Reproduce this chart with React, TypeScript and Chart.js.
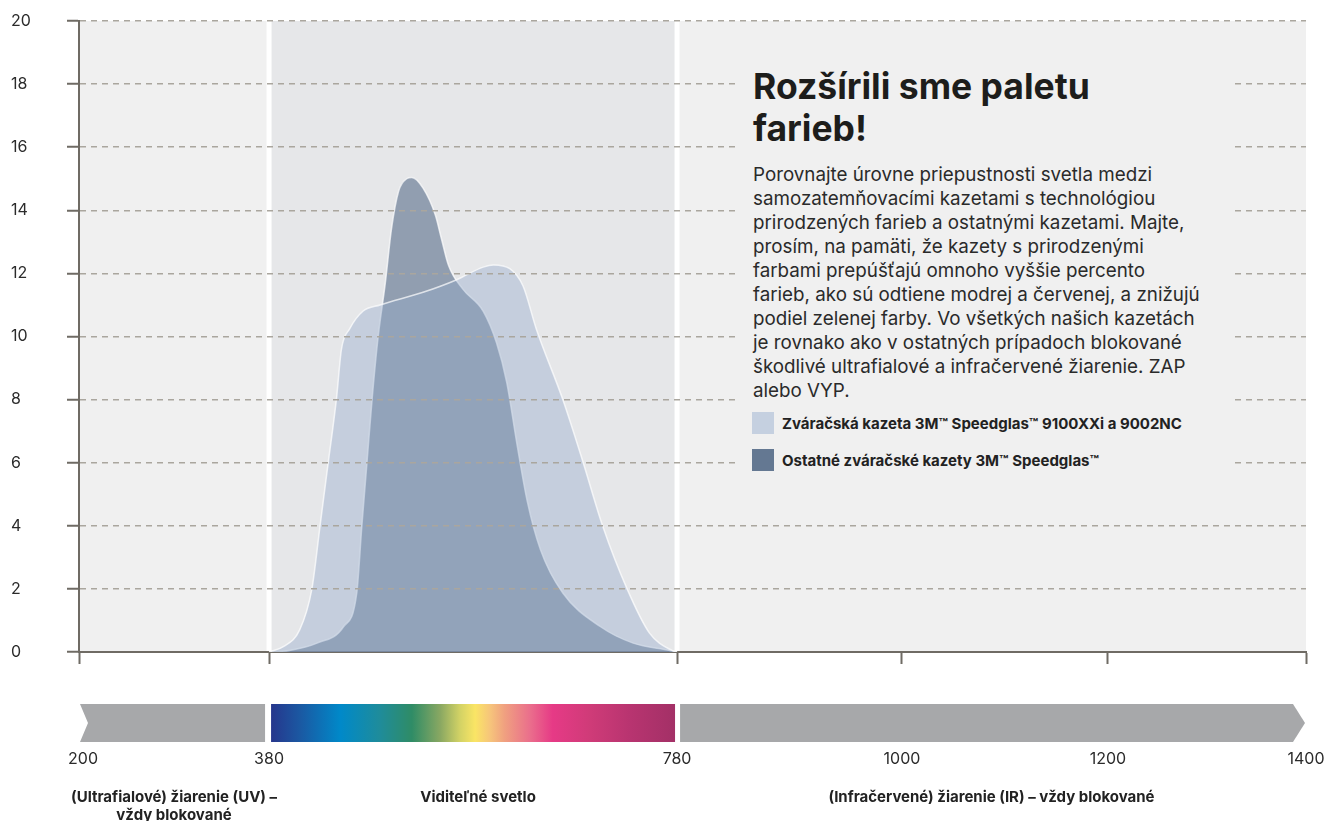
import React, { useEffect, useRef } from 'react';
import { Chart, registerables, LinearScale } from 'chart.js';

// ---- data ----
const tickWavelengths = [200, 380, 780, 1000, 1200, 1400];
const tickFractions = [0, 0.1549, 0.4874, 0.6707, 0.8386, 1];
const yTickStep = 2;
const yMax = 20;

const lightWavelengths = [380, 394, 410, 422, 430, 438, 446, 451, 459, 472, 489, 531, 564, 590, 600, 616, 629, 642, 668, 688, 707, 731, 753, 775, 780];
const lightValues = [0, 0.17, 0.7, 2.0, 4.0, 6.0, 8.0, 9.6, 10.24, 10.8, 11.0, 11.4, 11.8, 12.2, 12.27, 12.15, 11.6, 10.24, 8.0, 6.0, 4.0, 2.0, 0.6, 0.05, 0];

const darkWavelengths = [380, 400, 427, 453, 466, 471, 476, 481, 487, 494, 500, 507, 515, 520, 531, 543, 549, 556, 570, 590, 603, 613, 623, 633, 646, 668, 705, 737, 773, 780];
const darkValues = [0, 0.05, 0.28, 0.8, 1.87, 4.0, 6.0, 8.0, 10.0, 11.7, 13.4, 14.6, 15.0, 15.04, 14.7, 13.85, 13.1, 12.25, 11.5, 10.8, 9.8, 8.55, 6.6, 4.8, 3.25, 1.87, 0.8, 0.28, 0.05, 0];

const seriesLabels = [
  'Zváračská kazeta 3M™ Speedglas™ 9100XXi a 9002NC',
  'Ostatné zváračské kazety 3M™ Speedglas™',
];
const bandEdges = [200, 380, 780, 1400];
const bandLabels = [
  ['(Ultrafialové) žiarenie (UV) –', 'vždy blokované'],
  ['Viditeľné svetlo'],
  ['(Infračervené) žiarenie (IR) – vždy blokované'],
];
const spectrumWavelengths = [380, 410, 450, 489, 520, 548, 567, 582, 597, 611, 636, 658, 695, 734, 780];
const spectrumColors = ['#27348b', '#1b58a2', '#0089c9', '#1f8c9a', '#2f8c66', '#8aa862', '#d2d265', '#fae565', '#f6c47b', '#f0a080', '#ea6e8c', '#e63a86', '#cf3b78', '#b83470', '#a23066'];

const titleLines = ['Rozšírili sme paletu', 'farieb!'];
const paragraphLines = [
  'Porovnajte úrovne priepustnosti svetla medzi',
  'samozatemňovacími kazetami s technológiou',
  'prirodzených farieb a ostatnými kazetami. Majte,',
  'prosím, na pamäti, že kazety s prirodzenými',
  'farbami prepúšťajú omnoho vyššie percento',
  'farieb, ako sú odtiene modrej a červenej, a znižujú',
  'podiel zelenej farby. Vo všetkých našich kazetách',
  'je rovnako ako v ostatných prípadoch blokované',
  'škodlivé ultrafialové a infračervené žiarenie. ZAP',
  'alebo VYP.',
];

// ---- segmented scale ----
function valueToFraction(v: number) {
  const b = tickWavelengths, f = tickFractions;
  let i = 0;
  while (i < b.length - 2 && v > b[i + 1]) i++;
  return f[i] + ((v - b[i]) / (b[i + 1] - b[i])) * (f[i + 1] - f[i]);
}
function fractionToValue(d: number) {
  const b = tickWavelengths, f = tickFractions;
  let i = 0;
  while (i < f.length - 2 && d > f[i + 1]) i++;
  return b[i] + ((d - f[i]) / (f[i + 1] - f[i])) * (b[i + 1] - b[i]);
}

class SegmentedScale extends LinearScale {
  static id = 'segmented';
  static defaults = LinearScale.defaults;
  getPixelForValue(value: any) {
    if (value === null || value === undefined || isNaN(value)) return NaN;
    return this.getPixelForDecimal(valueToFraction(+value));
  }
  getValueForPixel(pixel: number) {
    return fractionToValue(this.getDecimalForPixel(pixel));
  }
}

Chart.register(...registerables);
Chart.register(SegmentedScale as any);

const FONT = 'Inter, "Noto Sans", sans-serif';
const AXIS = '#6f6b64';

const bandsPlugin = {
  id: 'bands',
  beforeDraw(chart: any) {
    const { ctx, chartArea: a, scales } = chart;
    const x = scales.x;
    const h = a.bottom - a.top;
    ctx.save();
    ctx.fillStyle = '#f0f0f0';
    ctx.fillRect(a.left, a.top, a.right - a.left, h);
    const x1 = x.getPixelForValue(bandEdges[1]);
    const x2 = x.getPixelForValue(bandEdges[2]);
    ctx.fillStyle = '#e6e7e9';
    ctx.fillRect(x1, a.top, x2 - x1, h);
    ctx.fillStyle = '#ffffff';
    ctx.fillRect(x1 - 2.5, a.top, 5, h);
    ctx.fillRect(x2 - 2.5, a.top, 5, h);
    ctx.restore();
  },
  afterDraw(chart: any) {
    const { ctx, chartArea: a, scales } = chart;
    const x = scales.x;
    const top = a.bottom + 52;
    const bh = 38;
    const px = bandEdges.map((v) => x.getPixelForValue(v));
    ctx.save();
    // UV arrow
    ctx.fillStyle = '#a7a8aa';
    ctx.beginPath();
    ctx.moveTo(px[0] + 1, top);
    ctx.lineTo(px[1] - 4, top);
    ctx.lineTo(px[1] - 4, top + bh);
    ctx.lineTo(px[0] + 1, top + bh);
    ctx.lineTo(px[0] + 9, top + bh / 2);
    ctx.closePath();
    ctx.fill();
    // IR arrow
    ctx.beginPath();
    ctx.moveTo(px[2] + 3, top);
    ctx.lineTo(px[3] - 13, top);
    ctx.lineTo(px[3] - 1, top + bh / 2);
    ctx.lineTo(px[3] - 13, top + bh);
    ctx.lineTo(px[2] + 3, top + bh);
    ctx.closePath();
    ctx.fill();
    // spectrum
    const sx1 = px[1] + 2, sx2 = px[2] - 2;
    const g = ctx.createLinearGradient(px[1], 0, px[2], 0);
    spectrumWavelengths.forEach((w, i) => {
      const f = (x.getPixelForValue(w) - px[1]) / (px[2] - px[1]);
      g.addColorStop(Math.max(0, Math.min(1, f)), spectrumColors[i]);
    });
    ctx.fillStyle = g;
    ctx.fillRect(sx1, top, sx2 - sx1, bh);
    // x tick labels
    ctx.fillStyle = '#2b2b2b';
    ctx.font = `16px ${FONT}`;
    ctx.textAlign = 'center';
    ctx.textBaseline = 'middle';
    x.ticks.forEach((t: any, i: number) => {
      ctx.fillText(String(t.value), x.getPixelForTick(i) + (i === 0 ? 4 : 0), a.bottom + 107);
    });
    // band labels
    ctx.fillStyle = '#222222';
    ctx.font = `bold 15px ${FONT}`;
    bandLabels.forEach((lines, i) => {
      let cx = (px[i] + px[i + 1]) / 2;
      if (i === 1) cx += 5;
      lines.forEach((t, j) => ctx.fillText(t, cx, a.bottom + 145 + j * 18));
    });
    ctx.restore();
  },
};

export default function App() {
  const ref = useRef<HTMLCanvasElement>(null);
  useEffect(() => {
    if (!ref.current) return;
    const chart = new Chart(ref.current, {
      type: 'line',
      data: {
        datasets: [
          {
            label: seriesLabels[0],
            data: lightWavelengths.map((w, i) => ({ x: w, y: lightValues[i] })),
            backgroundColor: 'rgba(148,171,203,0.4)',
            borderColor: 'rgba(255,255,255,0.7)',
            borderWidth: 1.5,
            fill: 'origin',
          },
          {
            label: seriesLabels[1],
            data: darkWavelengths.map((w, i) => ({ x: w, y: darkValues[i] })),
            backgroundColor: 'rgba(100,118,146,0.65)',
            borderColor: 'rgba(255,255,255,0.7)',
            borderWidth: 1.5,
            fill: 'origin',
          },
        ],
      },
      options: {
        animation: false,
        responsive: false,
        maintainAspectRatio: false,
        layout: { padding: { left: 11, right: 22, top: 21, bottom: 0 } },
        plugins: { legend: { display: false }, tooltip: { enabled: false } },
        elements: {
          point: { radius: 0 },
          line: { tension: 0.4, cubicInterpolationMode: 'monotone' },
        },
        scales: {
          x: {
            type: 'segmented' as any,
            min: tickWavelengths[0],
            max: tickWavelengths[tickWavelengths.length - 1],
            afterBuildTicks: (s: any) => {
              s.ticks = tickWavelengths.map((v) => ({ value: v }));
            },
            afterFit: (s: any) => {
              s.height = 169;
            },
            grid: { drawOnChartArea: false, drawTicks: true, tickLength: 12, tickColor: AXIS, tickWidth: 2 },
            border: { display: true, color: AXIS, width: 2 },
            ticks: { display: false, autoSkip: false, maxRotation: 0, callback: (v: any) => String(v) },
          },
          y: {
            min: 0,
            max: yMax,
            afterFit: (s: any) => {
              s.width = 68;
            },
            ticks: { stepSize: yTickStep, crossAlign: 'far', color: '#2b2b2b', font: { family: FONT, size: 16 } },
            grid: {
              color: (c: any) => (c.tick && c.tick.value === 0 ? 'rgba(0,0,0,0)' : '#aaa69e'),
              lineWidth: 1.5,
              tickColor: AXIS,
              tickWidth: 2,
              tickLength: 12,
              z: 1,
            },
            border: { display: true, color: AXIS, width: 2, dash: [6, 5], z: 1 },
          },
        },
      },
      plugins: [bandsPlugin],
    } as any);
    return () => chart.destroy();
  }, []);

  return (
    <div style={{ position: 'absolute', left: 0, top: 0, width: 1328, height: 821, fontFamily: FONT }}>
      <canvas ref={ref} width={1328} height={821} style={{ position: 'absolute', left: 0, top: 0, display: 'block' }} />
      <div style={{ position: 'absolute', left: 738, top: 45, width: 494, height: 450, background: '#f0f0f0' }} />
      <div style={{ position: 'absolute', left: 753, top: 66, fontSize: 35.5, lineHeight: '42px', fontWeight: 700, color: '#1d1d1b', whiteSpace: 'nowrap' }}>
        {titleLines.map((t, i) => (
          <div key={i}>{t}</div>
        ))}
      </div>
      <div style={{ position: 'absolute', left: 753, top: 163, fontSize: 18.8, lineHeight: '24px', color: '#2a2a2a', whiteSpace: 'nowrap' }}>
        {paragraphLines.map((t, i) => (
          <div key={i}>{t}</div>
        ))}
      </div>
      {seriesLabels.map((t, i) => (
        <div key={i} style={{ position: 'absolute', left: 752, top: 412 + i * 37, height: 22, display: 'flex', alignItems: 'center', whiteSpace: 'nowrap' }}>
          <div style={{ width: 22, height: 22, background: i === 0 ? '#c5d0e0' : '#647892', marginRight: 8 }} />
          <span style={{ fontSize: 15, fontWeight: 700, color: '#222222' }}>{t}</span>
        </div>
      ))}
    </div>
  );
}
